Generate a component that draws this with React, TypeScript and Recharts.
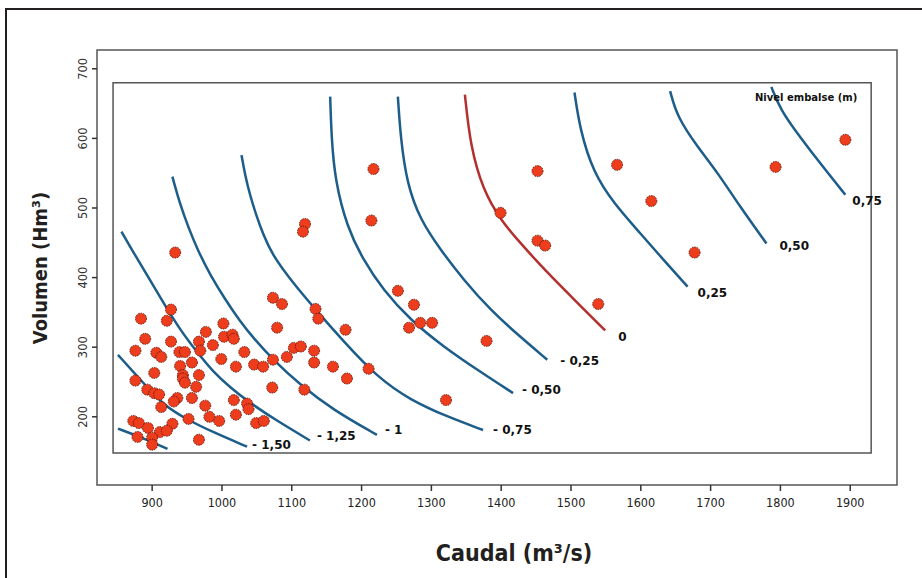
import React from "react";
import { ComposedChart, Line, Scatter, XAxis, YAxis, ReferenceArea } from "recharts";

type Pt = { x: number; y: number };

const xTicks = [900, 1000, 1100, 1200, 1300, 1400, 1500, 1600, 1700, 1800, 1900];
const yTicks = [200, 300, 400, 500, 600, 700];

// contour lines "Nivel embalse (m)"
const curveM175: Pt[] = [
  { x: 851, y: 183 }, { x: 883, y: 171 }, { x: 922, y: 154 },
];
const curveM150: Pt[] = [
  { x: 851, y: 289 }, { x: 887, y: 249 }, { x: 916, y: 217 }, { x: 950, y: 196 },
  { x: 987, y: 178 }, { x: 1036, y: 157 },
];
const curveM125: Pt[] = [
  { x: 856, y: 466 }, { x: 871, y: 440 }, { x: 893, y: 403 }, { x: 916, y: 364 },
  { x: 940, y: 325 }, { x: 965, y: 292 }, { x: 987, y: 265 }, { x: 1012, y: 242 },
  { x: 1040, y: 220 }, { x: 1076, y: 196 }, { x: 1126, y: 166 },
];
const curveM100: Pt[] = [
  { x: 929, y: 545 }, { x: 940, y: 505 }, { x: 952, y: 472 }, { x: 965, y: 440 },
  { x: 983, y: 404 }, { x: 1005, y: 368 }, { x: 1026, y: 337 }, { x: 1046, y: 312 },
  { x: 1073, y: 282 }, { x: 1112, y: 246 }, { x: 1159, y: 210 }, { x: 1222, y: 174 },
];
const curveM075: Pt[] = [
  { x: 1028, y: 576 }, { x: 1033, y: 548 }, { x: 1040, y: 519 }, { x: 1049, y: 490 },
  { x: 1059, y: 462 }, { x: 1072, y: 433 }, { x: 1098, y: 397 }, { x: 1134, y: 354 },
  { x: 1172, y: 311 }, { x: 1222, y: 257 }, { x: 1270, y: 224 }, { x: 1323, y: 200 },
  { x: 1374, y: 181 },
];
const curveM050: Pt[] = [
  { x: 1155, y: 660 }, { x: 1157, y: 600 }, { x: 1162, y: 540 }, { x: 1179, y: 473 },
  { x: 1202, y: 426 }, { x: 1231, y: 382 }, { x: 1270, y: 339 }, { x: 1317, y: 301 },
  { x: 1368, y: 266 }, { x: 1417, y: 234 },
];
const curveM025: Pt[] = [
  { x: 1252, y: 660 }, { x: 1256, y: 600 }, { x: 1265, y: 535 }, { x: 1284, y: 483 },
  { x: 1313, y: 440 }, { x: 1346, y: 397 }, { x: 1384, y: 354 }, { x: 1427, y: 315 },
  { x: 1466, y: 282 },
];
const curve000: Pt[] = [
  { x: 1348, y: 663 }, { x: 1356, y: 588 }, { x: 1374, y: 526 }, { x: 1399, y: 483 },
  { x: 1427, y: 450 }, { x: 1466, y: 407 }, { x: 1509, y: 364 }, { x: 1549, y: 324 },
];
const curveP025: Pt[] = [
  { x: 1505, y: 666 }, { x: 1513, y: 612 }, { x: 1532, y: 551 }, { x: 1561, y: 507 },
  { x: 1599, y: 464 }, { x: 1632, y: 426 }, { x: 1667, y: 387 },
];
const curveP050: Pt[] = [
  { x: 1642, y: 668 }, { x: 1652, y: 631 }, { x: 1681, y: 588 }, { x: 1710, y: 551 },
  { x: 1742, y: 502 }, { x: 1780, y: 449 },
];
const curveP075: Pt[] = [
  { x: 1787, y: 674 }, { x: 1800, y: 641 }, { x: 1828, y: 602 }, { x: 1861, y: 559 },
  { x: 1893, y: 519 },
];

// observations (caudal, volumen)
const observations: Pt[] = [
  { x: 933, y: 436 }, { x: 1073, y: 371 }, { x: 1086, y: 362 }, { x: 1134, y: 355 },
  { x: 1138, y: 341 }, { x: 1177, y: 325 }, { x: 927, y: 354 }, { x: 884, y: 341 },
  { x: 921, y: 338 }, { x: 1079, y: 328 }, { x: 977, y: 322 }, { x: 1002, y: 334 },
  { x: 890, y: 312 }, { x: 967, y: 308 }, { x: 1003, y: 315 }, { x: 1015, y: 318 },
  { x: 1017, y: 312 }, { x: 927, y: 308 }, { x: 987, y: 303 }, { x: 876, y: 295 },
  { x: 906, y: 292 }, { x: 913, y: 286 }, { x: 939, y: 293 }, { x: 947, y: 293 },
  { x: 969, y: 295 }, { x: 1032, y: 293 }, { x: 1103, y: 299 }, { x: 1113, y: 301 },
  { x: 1132, y: 295 }, { x: 1073, y: 282 }, { x: 1093, y: 286 }, { x: 999, y: 283 },
  { x: 957, y: 278 }, { x: 940, y: 273 }, { x: 1046, y: 275 }, { x: 1059, y: 272 },
  { x: 1020, y: 272 }, { x: 1132, y: 278 }, { x: 1159, y: 272 }, { x: 1179, y: 255 },
  { x: 903, y: 263 }, { x: 944, y: 260 }, { x: 967, y: 260 }, { x: 944, y: 255 },
  { x: 947, y: 249 }, { x: 876, y: 252 }, { x: 963, y: 243 }, { x: 1072, y: 242 },
  { x: 1118, y: 239 }, { x: 893, y: 239 }, { x: 903, y: 234 }, { x: 910, y: 232 },
  { x: 936, y: 227 }, { x: 931, y: 222 }, { x: 957, y: 227 }, { x: 913, y: 214 },
  { x: 1017, y: 224 }, { x: 1036, y: 219 }, { x: 1038, y: 211 }, { x: 976, y: 216 },
  { x: 1020, y: 203 }, { x: 982, y: 200 }, { x: 996, y: 194 }, { x: 952, y: 197 },
  { x: 1049, y: 191 }, { x: 1060, y: 194 }, { x: 873, y: 194 }, { x: 881, y: 191 },
  { x: 894, y: 184 }, { x: 929, y: 190 }, { x: 911, y: 178 }, { x: 921, y: 180 },
  { x: 879, y: 171 }, { x: 900, y: 170 }, { x: 967, y: 167 }, { x: 900, y: 160 },
  { x: 1217, y: 556 }, { x: 1214, y: 482 }, { x: 1119, y: 477 }, { x: 1116, y: 466 },
  { x: 1452, y: 553 }, { x: 1399, y: 493 }, { x: 1452, y: 453 }, { x: 1463, y: 446 },
  { x: 1252, y: 381 }, { x: 1275, y: 361 }, { x: 1268, y: 328 }, { x: 1284, y: 335 },
  { x: 1301, y: 335 }, { x: 1379, y: 309 }, { x: 1210, y: 269 }, { x: 1321, y: 224 },
  { x: 1539, y: 362 }, { x: 1566, y: 562 }, { x: 1615, y: 510 }, { x: 1677, y: 436 },
  { x: 1793, y: 559 }, { x: 1893, y: 598 },
];

const BLUE = "#1d5d8a";
const RED = "#b3302f";

const curves = [
  { key: "m175", name: "", data: curveM175, color: BLUE, dx: 0, dy: 0 },
  { key: "m150", name: "- 1,50", data: curveM150, color: BLUE, dx: 5, dy: -2 },
  { key: "m125", name: "- 1,25", data: curveM125, color: BLUE, dx: 7, dy: -4 },
  { key: "m100", name: "- 1", data: curveM100, color: BLUE, dx: 8, dy: -5 },
  { key: "m075", name: "- 0,75", data: curveM075, color: BLUE, dx: 10, dy: 0 },
  { key: "m050", name: "- 0,50", data: curveM050, color: BLUE, dx: 9, dy: -3 },
  { key: "m025", name: "- 0,25", data: curveM025, color: BLUE, dx: 13, dy: 1 },
  { key: "z000", name: "0", data: curve000, color: RED, dx: 13, dy: 7 },
  { key: "p025", name: "0,25", data: curveP025, color: BLUE, dx: 10, dy: 6 },
  { key: "p050", name: "0,50", data: curveP050, color: BLUE, dx: 13, dy: 3 },
  { key: "p075", name: "0,75", data: curveP075, color: BLUE, dx: 7, dy: 6 },
];

const YTick = (props: any) => {
  const { x, y, payload } = props;
  const tx = x - 3;
  return (
    <text
      x={tx}
      y={y}
      transform={`rotate(-90, ${tx}, ${y})`}
      textAnchor="middle"
      fontSize={11.5}
      fontFamily="DejaVu Sans"
      fill="#333"
    >
      {payload.value}
    </text>
  );
};

const Dot = (props: any) => {
  const { cx, cy } = props;
  return (
    <circle
      cx={cx}
      cy={cy}
      r={5.5}
      fill="#ee3d1d"
      stroke="#6a1608"
      strokeWidth={1}
      strokeDasharray="1.5 1"
    />
  );
};

export default function App() {
  return (
    <div style={{ position: "absolute", left: 0, top: 0, width: 922, height: 578, background: "#fff", overflow: "hidden" }}>
      <div
        style={{
          position: "absolute",
          left: 5,
          top: 8,
          width: 940,
          height: 600,
          borderLeft: "2px solid #231f20",
          borderTop: "2px solid #231f20",
        }}
      />
      <ComposedChart
        width={922}
        height={578}
        margin={{ top: 50, right: 25, bottom: 63, left: 0 }}
        style={{ position: "absolute", left: 0, top: 0 }}
      >
        <XAxis
          type="number"
          dataKey="x"
          domain={[821, 1967]}
          ticks={xTicks}
          allowDataOverflow
          height={30}
          axisLine={false}
          tickSize={6}
          tickMargin={7}
          tickLine={{ stroke: "#333", strokeWidth: 1.5 }}
          tick={{ fontSize: 12.5, fill: "#222", fontFamily: "DejaVu Sans Condensed" }}
        />
        <YAxis
          type="number"
          dataKey="y"
          domain={[102, 727]}
          ticks={yTicks}
          allowDataOverflow
          width={97}
          axisLine={false}
          tickSize={5}
          tickLine={{ stroke: "#333", strokeWidth: 1.5 }}
          tick={<YTick />}
        />
        <ReferenceArea
          x1={821}
          x2={1967}
          y1={102}
          y2={727}
          fill="none"
          stroke="#555"
          strokeWidth={1.5}
          ifOverflow="visible"
        />
        <ReferenceArea
          x1={844}
          x2={1930}
          y1={148}
          y2={680}
          fill="none"
          stroke="#555"
          strokeWidth={1.5}
          ifOverflow="visible"
        />
        {curves.map((c) => (
          <Line
            key={c.key}
            data={c.data}
            dataKey="y"
            type="basis"
            stroke={c.color}
            strokeWidth={2.5}
            dot={false}
            activeDot={false}
            isAnimationActive={false}
            label={(p: any) =>
              p.index === c.data.length - 1 && c.name ? (
                <text
                  x={p.x + c.dx}
                  y={p.y + c.dy}
                  dominantBaseline="central"
                  fontSize={12}
                  fontWeight="bold"
                  fontFamily="DejaVu Sans"
                  fill="#111"
                >
                  {c.name}
                </text>
              ) : (
                <g />
              )
            }
          />
        ))}
        <Scatter data={observations} shape={<Dot />} isAnimationActive={false} />
      </ComposedChart>
      <div
        style={{
          position: "absolute",
          left: 755,
          top: 92,
          fontFamily: "DejaVu Sans",
          fontWeight: "bold",
          fontSize: 10,
          color: "#111",
          whiteSpace: "nowrap",
        }}
      >
        Nivel embalse (m)
      </div>
      <div
        style={{
          position: "absolute",
          left: 364,
          top: 538,
          width: 300,
          textAlign: "center",
          fontFamily: "DejaVu Sans Condensed",
          fontWeight: "bold",
          fontSize: 23,
          color: "#231f20",
          lineHeight: "30px",
        }}
      >
        Caudal (m³/s)
      </div>
      <div
        style={{
          position: "absolute",
          left: -110,
          top: 254,
          width: 300,
          textAlign: "center",
          fontFamily: "DejaVu Sans Condensed",
          fontWeight: "bold",
          fontSize: 20,
          color: "#231f20",
          lineHeight: "28px",
          transform: "rotate(-90deg)",
        }}
      >
        Volumen (Hm³)
      </div>
    </div>
  );
}
